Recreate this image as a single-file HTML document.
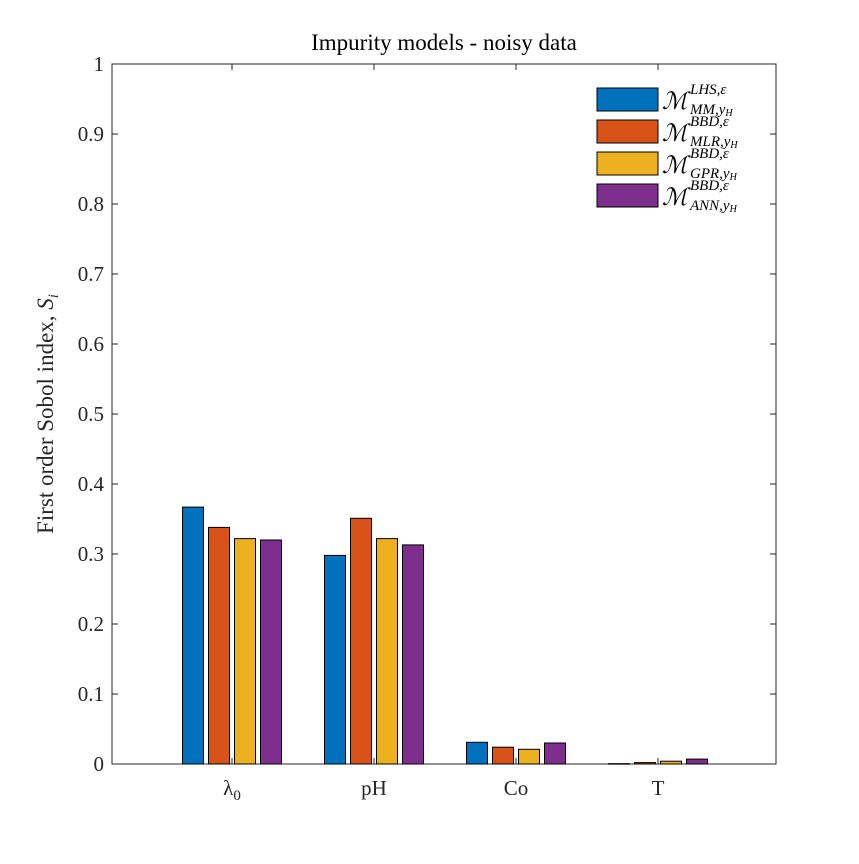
<!DOCTYPE html>
<html><head><meta charset="utf-8"><style>
body{margin:0;background:#fff;}
svg{font-family:"Liberation Serif",serif;}
</style></head><body>
<svg width="859" height="859" xmlns="http://www.w3.org/2000/svg">
<rect width="859" height="859" fill="#fff"/>
<g id="plot"></g>
</svg>
<script>
const categories=["λ0","pH","Co","T"];
const seriesLHS=[0.367,0.298,0.031,0.0005];
const seriesMLR=[0.338,0.351,0.024,0.002];
const seriesGPR=[0.322,0.322,0.021,0.004];
const seriesANN=[0.320,0.313,0.030,0.007];
const yTicks=[0,0.1,0.2,0.3,0.4,0.5,0.6,0.7,0.8,0.9,1];
const yTickLabels=["0","0.1","0.2","0.3","0.4","0.5","0.6","0.7","0.8","0.9","1"];
const series=[seriesLHS,seriesMLR,seriesGPR,seriesANN];
const colors=["#0072bd","#d95319","#edb120","#7e2f8e"];
const L=112,R=776,T=64,B=764;
const y=v=>B-(v/1)*(B-T);
const x=i=>232+i*142;
const NS="http://www.w3.org/2000/svg";
const g=document.getElementById('plot');
function mk(t,a,p){const e=document.createElementNS(NS,t);for(const k in a)e.setAttribute(k,a[k]);(p||g).appendChild(e);return e;}
let ax=mk('rect',{x:L,y:T,width:R-L,height:B-T,fill:'none',stroke:'#262626','stroke-width':1});


yTicks.forEach((v,i)=>{
 let t=mk('line',{x1:L,x2:L+6,y1:y(v),y2:y(v),stroke:'#262626'});
 
 
 mk('line',{x1:R,x2:R-6,y1:y(v),y2:y(v),stroke:'#262626'});
 let l=mk('text',{x:L-8,y:y(v)+7,'text-anchor':'end','font-size':21,fill:'#262626'});
 l.textContent=yTickLabels[i];
 
 
});
const offs=[-39,-13,13,39];
categories.forEach((c,i)=>{
 mk('line',{x1:x(i),x2:x(i),y1:B,y2:B-6,stroke:'#262626'});
 mk('line',{x1:x(i),x2:x(i),y1:T,y2:T+6,stroke:'#262626'});
 series.forEach((s,k)=>{
  const h=B-y(s[i]);
  let b=mk('rect',{x:x(i)+offs[k]-10.5,y:y(s[i]),width:21,height:Math.max(h,0.5),fill:colors[k],stroke:'#000','stroke-width':1});
  
  
 });
 let l=mk('text',{x:x(i),y:B+31,'text-anchor':'middle','font-size':21,fill:'#262626'});
 if(c==="λ0"){l.innerHTML='λ<tspan font-size="15" dy="5">0</tspan>';}else l.textContent=c;
 
 
});
let ti=mk('text',{x:444,y:50,'text-anchor':'middle','font-size':23,fill:'#000'});
ti.textContent='Impurity models - noisy data';


let yl=mk('text',{x:0,y:0,'text-anchor':'middle','font-size':23,fill:'#262626',transform:'translate(53,414) rotate(-90)'});
yl.innerHTML='First order Sobol index, <tspan font-style="italic">S</tspan><tspan font-style="italic" font-size="15" dy="5">i</tspan>';


const legSup=["LHS,ε","BBD,ε","BBD,ε","BBD,ε"];
const legSub=["MM,y","MLR,y","GPR,y","ANN,y"];
legSub.forEach((s,k)=>{
 const yy=88+k*32;
 let r=mk('rect',{x:597,y:yy,width:61,height:23,fill:colors[k],stroke:'#000'});
 
 
 let t=mk('text',{x:662,y:yy+21,'font-size':24,'font-style':'italic',fill:'#000'});
 t.textContent='ℳ';
 
 
 let sp=mk('text',{x:690,y:yy+6,'font-size':15,'font-style':'italic',fill:'#000'});
 sp.textContent=legSup[k];
 
 
 let sb=mk('text',{x:690,y:yy+26,'font-size':15,'font-style':'italic',fill:'#000'});
 sb.innerHTML=s+'<tspan font-size="10" dy="2">H</tspan>';
 
 
});
</script>
</body></html>
